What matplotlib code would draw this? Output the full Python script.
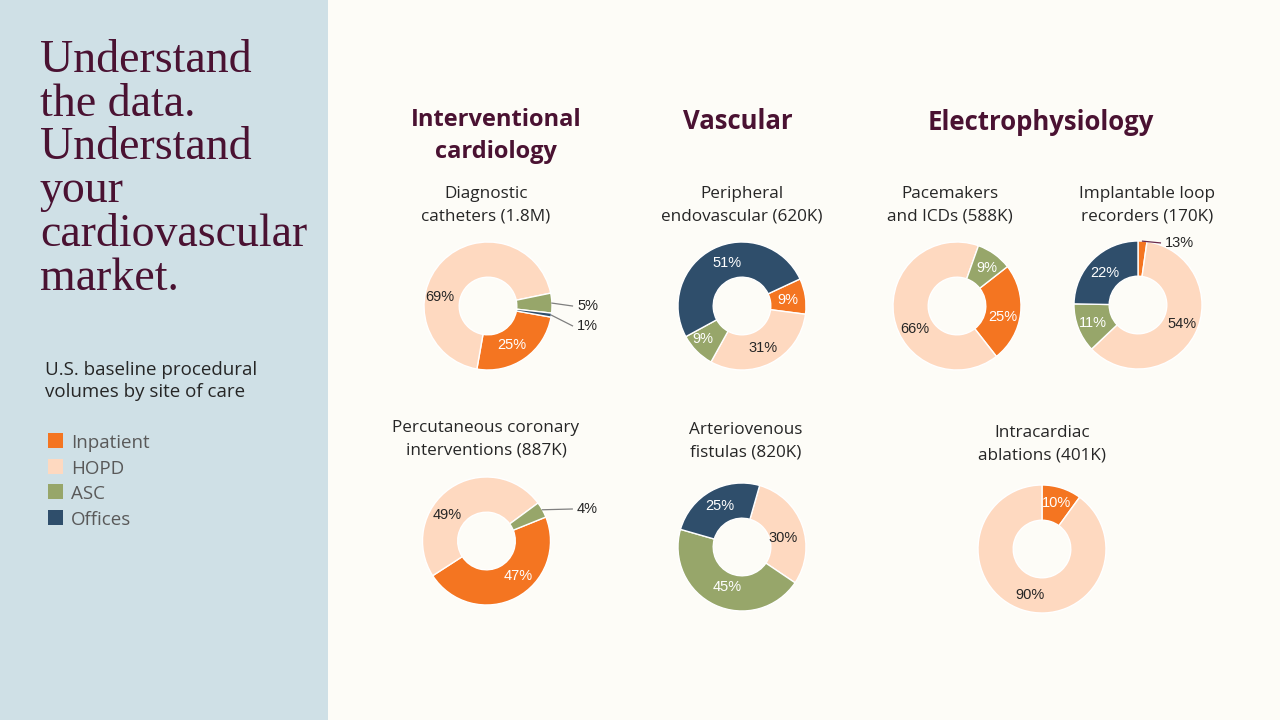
import matplotlib
matplotlib.use("Agg")
import matplotlib.pyplot as plt
import numpy as np
from matplotlib.patches import Rectangle

# Site-of-care categories and colours
CATEGORIES = ["Inpatient", "HOPD", "ASC", "Offices"]
COLORS = ["#f47521", "#fed9c0", "#97a66a", "#2f4e6b"]

# Share of procedures by site of care (%), in CATEGORIES order
diag_values = [25, 69, 5, 1]
pci_values = [47, 49, 4, 0]
periph_values = [9, 31, 9, 51]
avf_values = [0, 30, 45, 25]
pacer_values = [25, 66, 9, 0]
ilr_values = [2, 54, 11, 22]
ablation_values = [10, 90, 0, 0]
ilr_labels = ["13%", "54%", "11%", "22%"]

GROUPS = ["Interventional\ncardiology", "Vascular", "Electrophysiology"]
TITLES = ["Diagnostic\ncatheters (1.8M)", "Percutaneous coronary\ninterventions (887K)",
          "Peripheral\nendovascular (620K)", "Arteriovenous\nfistulas (820K)",
          "Pacemakers\nand ICDs (588K)", "Implantable loop\nrecorders (170K)",
          "Intracardiac\nablations (401K)"]

MAROON = "#4a1232"
PANEL = "#cfe0e6"
CREAM = "#fdfcf7"
DARK = "#262626"
W, H = 1280, 720
R = 64  # donut outer radius, px

fig = plt.figure(figsize=(12.8, 7.2), dpi=100, facecolor=CREAM)
bg = fig.add_axes([0, 0, 1, 1])
bg.set_xlim(0, W)
bg.set_ylim(H, 0)
bg.axis("off")
bg.add_patch(Rectangle((0, 0), 328, H, color=PANEL, lw=0))

# left panel
for i, line in enumerate(["Understand", "the data.", "Understand", "your",
                          "cardiovascular", "market."]):
    bg.text(40, 72 + 43.5 * i, line, family="Liberation Serif", fontsize=33,
            color=MAROON, va="baseline")
bg.text(45, 375, "U.S. baseline procedural", family="Open Sans", fontsize=13.5,
        color=DARK, va="baseline")
bg.text(45, 397, "volumes by site of care", family="Open Sans", fontsize=13.5,
        color=DARK, va="baseline")
for i, (cat, col) in enumerate(zip(CATEGORIES, COLORS)):
    y = 433 + 25.7 * i
    bg.add_patch(Rectangle((48, y), 15, 15, color=col, lw=0))
    bg.text(71, y + 15, cat, family="Open Sans", fontsize=13.5, color="#595959",
            va="baseline")

# group headers
bg.text(496, 126, "Interventional", family="Open Sans", weight="bold",
        fontsize=17, color=MAROON, ha="center", va="baseline")
bg.text(496, 158, "cardiology", family="Open Sans", weight="bold",
        fontsize=17, color=MAROON, ha="center", va="baseline")
bg.text(738, 129, GROUPS[1], family="Open Sans", weight="bold",
        fontsize=18.5, color=MAROON, ha="center", va="baseline")
bg.text(1041, 130, GROUPS[2], family="Open Sans", weight="bold",
        fontsize=18.5, color=MAROON, ha="center", va="baseline")

# chart titles: (center x, first baseline)
title_pos = [(486, 198), (486, 432), (742, 198), (746, 434), (950, 198),
             (1147, 198), (1042, 437)]
for t, (x, y) in zip(TITLES, title_pos):
    for j, line in enumerate(t.split("\n")):
        bg.text(x, y + 22.5 * j, line, family="Open Sans", fontsize=12.3,
                color=DARK, ha="center", va="baseline")


def donut(cx, cy, values, start, labels, label_pos, outside=(), line_col="#7f7f7f"):
    L = 1.9
    ax = fig.add_axes([(cx - L * R) / W, 1 - (cy + L * R) / H, 2 * L * R / W, 2 * L * R / H])
    keep = [i for i, v in enumerate(values) if v > 0]
    wedges, _ = ax.pie([values[i] for i in keep], colors=[COLORS[i] for i in keep],
                       startangle=start, counterclock=False, radius=1,
                       wedgeprops=dict(width=0.55, edgecolor="white", linewidth=1.0))
    ax.set_xlim(-L, L)
    ax.set_ylim(-L, L)
    ax.axis("off")
    for w, i in zip(wedges, keep):
        x, y = label_pos[i]
        col = DARK if i == 1 else "white"
        if i in outside:
            a = np.deg2rad((w.theta1 + w.theta2) / 2)
            ax.plot([np.cos(a), x - 0.07], [np.sin(a), y], color=line_col, lw=0.9)
            ax.text(x, y, labels[i], family="Liberation Sans", fontsize=10.5,
                    color=DARK, ha="left", va="center")
        else:
            ax.text(x, y, labels[i], family="Liberation Sans", fontsize=10.5,
                    color=col, ha="center", va="center")


def pct(vals):
    return ["%d%%" % v for v in vals]


donut(488, 306, diag_values, -10, pct(diag_values),
      [(0.375, -0.61), (-0.75, 0.14), (1.39, 0.0), (1.39, -0.31)], outside=(2, 3))
donut(486.5, 541, pci_values, 22, pct(pci_values),
      [(0.5, -0.55), (-0.61, 0.41), (1.41, 0.5), (0, 0)], outside=(2,))
donut(742, 306, periph_values, 25, pct(periph_values),
      [(0.72, 0.09), (0.33, -0.66), (-0.61, -0.52), (-0.23, 0.67)])
donut(742, 547, avf_values, 74, pct(avf_values),
      [(0, 0), (0.64, 0.14), (-0.23, -0.62), (-0.34, 0.64)])
donut(957, 306, pacer_values, 38, pct(pacer_values),
      [(0.72, -0.17), (-0.66, -0.36), (0.47, 0.59), (0, 0)])
donut(1138, 305, ilr_values, 90, ilr_labels,
      [(0.42, 0.97), (0.69, -0.3), (-0.7, -0.28), (-0.52, 0.5)], outside=(0,),
      line_col="#6b2a4a")
donut(1042, 549, ablation_values, 90, pct(ablation_values),
      [(0.23, 0.72), (-0.19, -0.72), (0, 0), (0, 0)])

fig.savefig("out.png", dpi=100, facecolor=fig.get_facecolor())
